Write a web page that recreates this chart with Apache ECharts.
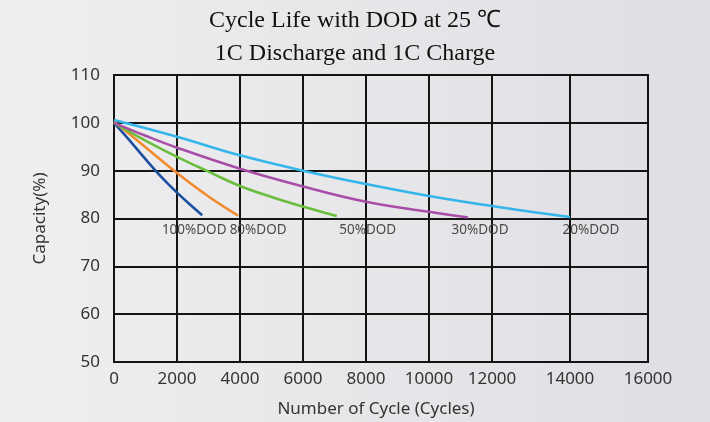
<!DOCTYPE html>
<html>
<head>
<meta charset="utf-8">
<script src="https://cdn.jsdelivr.net/npm/echarts@6/dist/echarts.min.js"></script>
<style>
html,body{margin:0;padding:0;}
#chart{width:710px;height:422px;}
</style>
</head>
<body>
<div id="chart"></div>
<script>
// ---- data ----
var titleLine1 = 'Cycle Life with DOD at 25 ℃';
var titleLine2 = '1C Discharge and 1C Charge';
var yName = 'Capacity(%)';
var xName = 'Number of Cycle (Cycles)';
var xTicks = [0, 2000, 4000, 6000, 8000, 10000, 12000, 14000, 16000];
var yTicks = [50, 60, 70, 80, 90, 100, 110];
var xBreak = 12000; // reference draws 12000-16000 on a wider scale

var dodNames = ['100%DOD', '80%DOD', '50%DOD', '30%DOD', '20%DOD'];
var cycles100 = [0, 500, 1000, 1500, 2000, 2500, 2800];
var cap100    = [100, 96.3, 92.4, 88.7, 85.4, 82.4, 80.7];
var cycles80  = [0, 1000, 2000, 3000, 3940];
var cap80     = [100.3, 94.9, 89.5, 84.6, 80.6];
var cycles50  = [0, 1000, 2000, 3000, 4000, 5000, 6000, 7070];
var cap50     = [100, 96.3, 92.9, 89.8, 86.8, 84.5, 82.5, 80.5];
var cycles30  = [0, 1000, 2000, 4000, 6000, 8000, 10000, 11240];
var cap30     = [100, 97.3, 94.8, 90.4, 86.7, 83.5, 81.4, 80.2];
var cycles20  = [0, 2000, 4000, 6000, 8000, 10000, 12000, 13000, 14000];
var cap20     = [100.6, 97.1, 93.2, 90.0, 87.2, 84.7, 82.6, 81.4, 80.3];

// ---- styles ----
var colors = ['#1d4fa0', '#f28a2e', '#6bbd3e', '#a84ea8', '#35b6ea'];
var labelOffsets = [[-8, 3], [20, 3], [31, 2], [12, 1], [21, 1]];
var sansFont = '"Noto Sans", sans-serif';
var serifFont = '"Liberation Serif", "Times New Roman", serif';
var gridLine = {show: true, lineStyle: {color: '#141414', width: 2}};

function pairs(xs, ys) {
  return xs.map(function (x, i) { return [x, ys[i]]; });
}

var allX = [cycles100, cycles80, cycles50, cycles30, cycles20];
var allY = [cap100, cap80, cap50, cap30, cap20];

var series = [];
allX.forEach(function (xs, k) {
  var pts = pairs(xs, allY[k]);
  var left = pts.filter(function (p) { return p[0] <= xBreak; });
  var right = pts.filter(function (p) { return p[0] >= xBreak; });
  var pieces = [{data: left, axis: 0}];
  if (right.length > 1) pieces.push({data: right, axis: 1});
  pieces.forEach(function (pc, j) {
    var isLast = j === pieces.length - 1;
    var data = pc.data.map(function (p, i) {
      if (isLast && i === pc.data.length - 1) {
        return {value: p, label: {
          show: true, position: 'bottom', distance: 5,
          offset: labelOffsets[k], formatter: dodNames[k],
          color: '#4a4a4a', fontSize: 13.5, fontFamily: sansFont
        }};
      }
      return p;
    });
    series.push({
      type: 'line', name: dodNames[k], xAxisIndex: pc.axis, yAxisIndex: pc.axis,
      data: data, smooth: 0.4, showSymbol: true, symbol: 'circle', symbolSize: 0,
      showAllSymbol: true,
      label: {show: false},
      lineStyle: {color: colors[k], width: 2.6}, itemStyle: {color: colors[k]},
      z: 5, silent: true, animation: false
    });
  });
});

function xAxisDef(idx, min, max, hideMin) {
  return {
    type: 'value', gridIndex: idx, min: min, max: max, interval: 2000,
    axisLine: {show: false}, axisTick: {show: false},
    splitLine: gridLine,
    axisLabel: {
      color: '#333', fontSize: 17, fontFamily: sansFont, margin: 9,
      showMinLabel: !hideMin,
      formatter: function (v) { return xTicks.indexOf(v) >= 0 ? String(v) : ''; }
    }
  };
}
function yAxisDef(idx, showLabels) {
  var ax = {
    type: 'value', gridIndex: idx, min: yTicks[0], max: yTicks[yTicks.length - 1], interval: 10,
    axisLine: {show: false}, axisTick: {show: false},
    splitLine: gridLine,
    axisLabel: {show: showLabels, color: '#333', fontSize: 17, fontFamily: sansFont, margin: 14}
  };
  if (showLabels) {
    ax.name = yName;
    ax.nameLocation = 'middle';
    ax.nameGap = 65;
    ax.nameTextStyle = {color: '#333', fontSize: 17, fontFamily: sansFont};
  }
  return ax;
}

var chart = echarts.init(document.getElementById('chart'), null, {renderer: 'canvas'});
chart.setOption({
  animation: false,
  backgroundColor: {
    type: 'linear', x: 0, y: 0, x2: 1, y2: 0,
    colorStops: [{offset: 0, color: '#efeff1'}, {offset: 1, color: '#dfdfe3'}]
  },
  title: [
    {text: titleLine1, left: 'center', top: 4,
     textStyle: {fontFamily: serifFont, fontWeight: 'normal', fontSize: 24, color: '#111'}},
    {text: titleLine2, left: 'center', top: 37,
     textStyle: {fontFamily: serifFont, fontWeight: 'normal', fontSize: 24, color: '#111'}}
  ],
  grid: [
    {left: 114, right: 218, top: 75, bottom: 60, show: true, borderColor: '#141414', borderWidth: 2, backgroundColor: 'transparent'},
    {left: 492, right: 62, top: 75, bottom: 60, show: true, borderColor: '#141414', borderWidth: 2, backgroundColor: 'transparent'}
  ],
  xAxis: [xAxisDef(0, 0, xBreak, false), xAxisDef(1, xBreak, 16000, true)],
  yAxis: [yAxisDef(0, true), yAxisDef(1, false)],
  graphic: [{
    type: 'text', x: 376, y: 401,
    style: {text: xName, fill: '#333', fontSize: 17, fontFamily: sansFont, textAlign: 'center'}
  }],
  series: series
});
</script>
</body>
</html>
